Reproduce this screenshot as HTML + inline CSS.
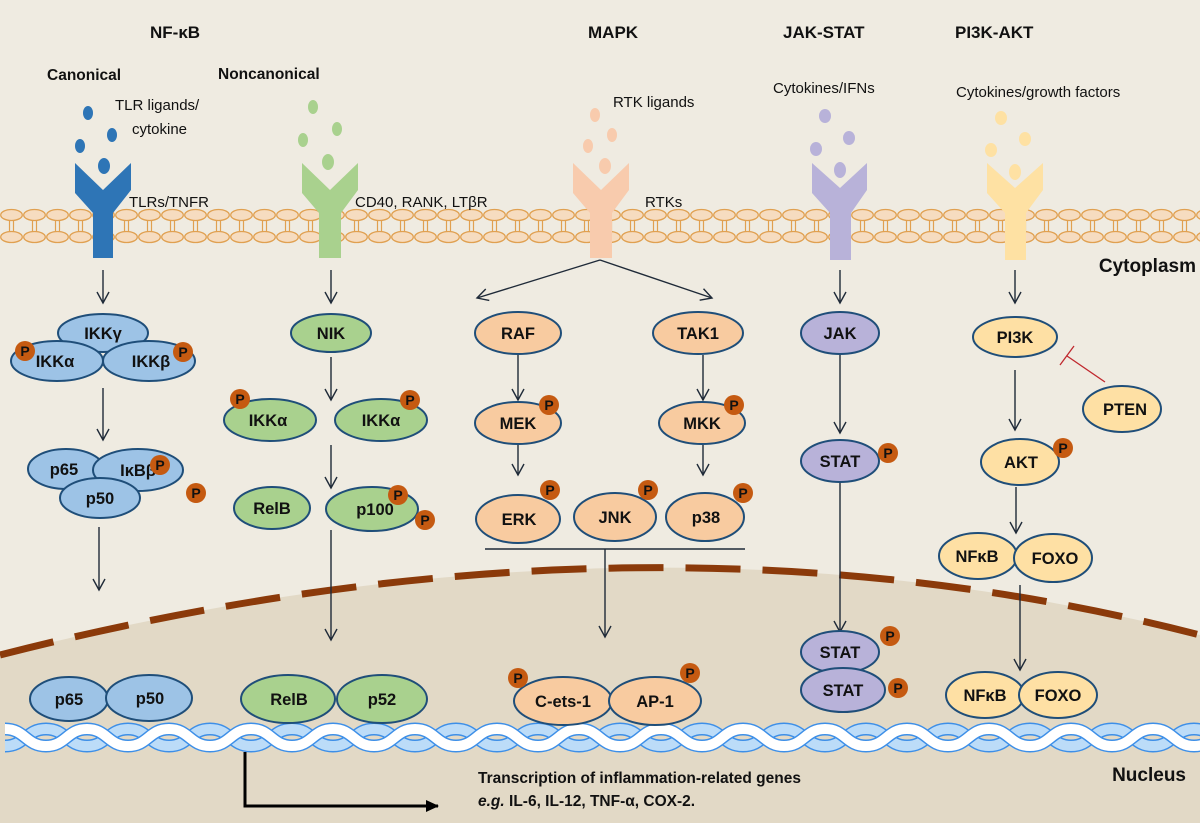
<!DOCTYPE html>
<html><head><meta charset="utf-8"><style>
html,body{margin:0;padding:0;background:#efebe1;}
svg{display:block;font-family:"Liberation Sans",Arial,sans-serif;}
.b{font-weight:bold;}
</style></head><body>
<svg width="1200" height="823" viewBox="0 0 1200 823" xmlns="http://www.w3.org/2000/svg">
<defs>
<pattern id="mem" x="0" y="205" width="23" height="40" patternUnits="userSpaceOnUse">
<line x1="9.5" y1="15" x2="9.5" y2="28" stroke="#e0a050" stroke-width="1.2"/>
<line x1="13.5" y1="15" x2="13.5" y2="28" stroke="#e0a050" stroke-width="1.2"/>
<ellipse cx="11.5" cy="10" rx="10.8" ry="5.5" fill="#f6dcc0" stroke="#e0a050" stroke-width="1.3"/>
<ellipse cx="11.5" cy="32" rx="10.8" ry="5.5" fill="#f6dcc0" stroke="#e0a050" stroke-width="1.3"/>
</pattern>
<pattern id="dna" x="5" y="0" width="82" height="823" patternUnits="userSpaceOnUse">
<path d="M-41,729 C-21,729 -20,746 0,746 C20,746 21,729 41,729 C61,729 62,746 82,746 C102,746 103,729 123,729" fill="none" stroke="#3d8fe8" stroke-width="13"/>
<path d="M-41,729 C-21,729 -20,746 0,746 C20,746 21,729 41,729 C61,729 62,746 82,746 C102,746 103,729 123,729" fill="none" stroke="#bcdcf8" stroke-width="10"/>
<path d="M-41,746 C-21,746 -20,729 0,729 C20,729 21,746 41,746 C61,746 62,729 82,729 C102,729 103,746 123,746" fill="none" stroke="#3d8fe8" stroke-width="13"/>
<path d="M-41,746 C-21,746 -20,729 0,729 C20,729 21,746 41,746 C61,746 62,729 82,729 C102,729 103,746 123,746" fill="none" stroke="#ffffff" stroke-width="10"/>
</pattern>
<marker id="ar" markerWidth="14" markerHeight="14" refX="12" refY="7" orient="auto" markerUnits="userSpaceOnUse">
<path d="M1,1 L12,7 L1,13" fill="none" stroke="#1f2a38" stroke-width="1.4"/>
</marker>
<marker id="arB" markerWidth="14" markerHeight="14" refX="12" refY="7" orient="auto" markerUnits="userSpaceOnUse">
<path d="M0,1 L13,7 L0,13 Z" fill="#000"/>
</marker>
</defs>

<path d="M0,655 Q640,491 1200,635 L1200,823 L0,823 Z" fill="#e2d9c6"/>
<path d="M0,655 Q640,491 1200,635" fill="none" stroke="#8b3a0a" stroke-width="7" stroke-dasharray="55,22"/>

<rect x="0" y="205" width="1200" height="40" fill="url(#mem)"/>

<rect x="5" y="718" width="1195" height="40" fill="url(#dna)"/>

<g class="b" font-size="17" fill="#111">
<text x="150" y="38">NF-κB</text>
<text x="588" y="38">MAPK</text>
<text x="783" y="38">JAK-STAT</text>
<text x="955" y="38">PI3K-AKT</text>
</g>
<g class="b" font-size="15.5" fill="#111">
<text x="47" y="80">Canonical</text>
<text x="218" y="79">Noncanonical</text>
</g>
<g font-size="15" fill="#111">
<text x="115" y="110">TLR ligands/</text>
<text x="132" y="134">cytokine</text>
<text x="129" y="207">TLRs/TNFR</text>
<text x="355" y="207">CD40, RANK, LTβR</text>
<text x="613" y="107">RTK ligands</text>
<text x="645" y="207">RTKs</text>
<text x="773" y="93">Cytokines/IFNs</text>
<text x="956" y="97">Cytokines/growth  factors</text>
</g>
<text class="b" x="1196" y="272" font-size="19" text-anchor="end" fill="#111">Cytoplasm</text>
<text class="b" x="1186" y="781" font-size="19" text-anchor="end" fill="#111">Nucleus</text>

<g fill="#2e75b6"><ellipse cx="88" cy="113" rx="5" ry="7"/><ellipse cx="112" cy="135" rx="5" ry="7"/><ellipse cx="80" cy="146" rx="5" ry="7"/><ellipse cx="104" cy="166" rx="6" ry="8"/>
<polygon points="75,163 103,190 131,163 131,190 113,213 113,258 93,258 93,213 75,193"/></g>
<g fill="#a9d18e"><ellipse cx="313" cy="107" rx="5" ry="7"/><ellipse cx="337" cy="129" rx="5" ry="7"/><ellipse cx="303" cy="140" rx="5" ry="7"/><ellipse cx="328" cy="162" rx="6" ry="8"/>
<polygon points="302,163 330,190 358,163 358,190 341,213 341,258 319,258 319,213 302,193"/></g>
<g fill="#f8cbad"><ellipse cx="595" cy="115" rx="5" ry="7"/><ellipse cx="612" cy="135" rx="5" ry="7"/><ellipse cx="588" cy="146" rx="5" ry="7"/><ellipse cx="605" cy="166" rx="6" ry="8"/>
<polygon points="573,163 601,190 629,163 629,190 612,213 612,258 590,258 590,213 573,193"/></g>
<g fill="#b8b2d9"><ellipse cx="825" cy="116" rx="6" ry="7"/><ellipse cx="849" cy="138" rx="6" ry="7"/><ellipse cx="816" cy="149" rx="6" ry="7"/><ellipse cx="840" cy="170" rx="6" ry="8"/>
<polygon points="812,163 840,188 867,163 867,190 851,213 851,260 830,260 830,213 812,193"/></g>
<g fill="#fee1a3"><ellipse cx="1001" cy="118" rx="6" ry="7"/><ellipse cx="1025" cy="139" rx="6" ry="7"/><ellipse cx="991" cy="150" rx="6" ry="7"/><ellipse cx="1015" cy="172" rx="6" ry="8"/>
<polygon points="987,163 1015,188 1043,163 1043,190 1026,213 1026,260 1005,260 1005,213 987,193"/></g>

<g stroke="#1f2a38" stroke-width="1.4" fill="none" marker-end="url(#ar)">
<line x1="103" y1="270" x2="103" y2="303"/>
<line x1="103" y1="388" x2="103" y2="440"/>
<line x1="99" y1="527" x2="99" y2="590"/>
<line x1="331" y1="270" x2="331" y2="303"/>
<line x1="331" y1="357" x2="331" y2="400"/>
<line x1="331" y1="445" x2="331" y2="488"/>
<line x1="331" y1="530" x2="331" y2="640"/>
<line x1="600" y1="260" x2="477" y2="298"/>
<line x1="600" y1="260" x2="712" y2="298"/>
<line x1="518" y1="355" x2="518" y2="400"/>
<line x1="703" y1="355" x2="703" y2="400"/>
<line x1="518" y1="445" x2="518" y2="475"/>
<line x1="703" y1="445" x2="703" y2="475"/>
<line x1="605" y1="549" x2="605" y2="637"/>
<line x1="840" y1="270" x2="840" y2="303"/>
<line x1="840" y1="355" x2="840" y2="433"/>
<line x1="840" y1="480" x2="840" y2="632"/>
<line x1="1015" y1="270" x2="1015" y2="303"/>
<line x1="1015" y1="370" x2="1015" y2="430"/>
<line x1="1016" y1="487" x2="1016" y2="533"/>
<line x1="1020" y1="585" x2="1020" y2="670"/>
</g>
<line x1="485" y1="549" x2="745" y2="549" stroke="#1f2a38" stroke-width="1.4"/>
<line x1="1105" y1="382" x2="1067" y2="356" stroke="#c0282e" stroke-width="1.3"/>
<line x1="1060" y1="365" x2="1074" y2="346" stroke="#c0282e" stroke-width="1.3"/>

<polyline points="245,752 245,806 438,806" fill="none" stroke="#000" stroke-width="3" marker-end="url(#arB)"/>
<text class="b" x="478" y="783" font-size="15.5" fill="#111">Transcription of inflammation-related genes</text>
<text class="b" x="478" y="806" font-size="15.5" fill="#111"><tspan font-style="italic">e.g.</tspan> IL-6, IL-12, TNF-α, COX-2.</text>

<g stroke="#1f4e79" stroke-width="2">
<g fill="#9dc3e6">
<ellipse cx="103" cy="333" rx="45" ry="19"/>
<ellipse cx="57" cy="361" rx="46" ry="20"/>
<ellipse cx="149" cy="361" rx="46" ry="20"/>
<ellipse cx="66" cy="469" rx="38" ry="20"/>
<ellipse cx="138" cy="470" rx="45" ry="21"/>
<ellipse cx="100" cy="498" rx="40" ry="20"/>
<ellipse cx="69" cy="699" rx="39" ry="22"/>
<ellipse cx="149" cy="698" rx="43" ry="23"/>
</g>
<g fill="#a9d18e">
<ellipse cx="331" cy="333" rx="40" ry="19"/>
<ellipse cx="270" cy="420" rx="46" ry="21"/>
<ellipse cx="381" cy="420" rx="46" ry="21"/>
<ellipse cx="272" cy="508" rx="38" ry="21"/>
<ellipse cx="372" cy="509" rx="46" ry="22"/>
<ellipse cx="288" cy="699" rx="47" ry="24"/>
<ellipse cx="382" cy="699" rx="45" ry="24"/>
</g>
<g fill="#f8cba0">
<ellipse cx="518" cy="333" rx="43" ry="21"/>
<ellipse cx="698" cy="333" rx="45" ry="21"/>
<ellipse cx="518" cy="423" rx="43" ry="21"/>
<ellipse cx="702" cy="423" rx="43" ry="21"/>
<ellipse cx="518" cy="519" rx="42" ry="24"/>
<ellipse cx="615" cy="517" rx="41" ry="24"/>
<ellipse cx="705" cy="517" rx="39" ry="24"/>
<ellipse cx="563" cy="701" rx="49" ry="24"/>
<ellipse cx="655" cy="701" rx="46" ry="24"/>
</g>
<g fill="#b8b2d9">
<ellipse cx="840" cy="333" rx="39" ry="21"/>
<ellipse cx="840" cy="461" rx="39" ry="21"/>
<ellipse cx="840" cy="652" rx="39" ry="21"/>
<ellipse cx="843" cy="690" rx="42" ry="22"/>
</g>
<g fill="#fee0a4">
<ellipse cx="1015" cy="337" rx="42" ry="20"/>
<ellipse cx="1122" cy="409" rx="39" ry="23"/>
<ellipse cx="1020" cy="462" rx="39" ry="23"/>
<ellipse cx="978" cy="556" rx="39" ry="23"/>
<ellipse cx="1053" cy="558" rx="39" ry="24"/>
<ellipse cx="985" cy="695" rx="39" ry="23"/>
<ellipse cx="1058" cy="695" rx="39" ry="23"/>
</g>
</g>

<g class="b" font-size="16.5" fill="#111" text-anchor="middle">
<text x="103" y="339">IKKγ</text>
<text x="55" y="367">IKKα</text>
<text x="151" y="367">IKKβ</text>
<text x="64" y="475">p65</text>
<text x="138" y="476">IκBβ</text>
<text x="100" y="504">p50</text>
<text x="69" y="705">p65</text>
<text x="150" y="704">p50</text>
<text x="331" y="339">NIK</text>
<text x="268" y="426">IKKα</text>
<text x="381" y="426">IKKα</text>
<text x="272" y="514">RelB</text>
<text x="375" y="515">p100</text>
<text x="289" y="705">RelB</text>
<text x="382" y="705">p52</text>
<text x="518" y="339">RAF</text>
<text x="698" y="339">TAK1</text>
<text x="518" y="429">MEK</text>
<text x="702" y="429">MKK</text>
<text x="519" y="525">ERK</text>
<text x="615" y="523">JNK</text>
<text x="706" y="523">p38</text>
<text x="563" y="707">C-ets-1</text>
<text x="655" y="707">AP-1</text>
<text x="840" y="339">JAK</text>
<text x="840" y="467">STAT</text>
<text x="840" y="658">STAT</text>
<text x="843" y="696">STAT</text>
<text x="1015" y="343">PI3K</text>
<text x="1125" y="415">PTEN</text>
<text x="1021" y="468">AKT</text>
<text x="977" y="562">NFκB</text>
<text x="1055" y="564">FOXO</text>
<text x="985" y="701">NFκB</text>
<text x="1058" y="701">FOXO</text>
</g>

<g>
<g fill="#c55a11">
<circle cx="25" cy="351" r="10"/><circle cx="183" cy="352" r="10"/>
<circle cx="160" cy="465" r="10"/><circle cx="196" cy="493" r="10"/>
<circle cx="240" cy="399" r="10"/><circle cx="410" cy="400" r="10"/>
<circle cx="398" cy="495" r="10"/><circle cx="425" cy="520" r="10"/>
<circle cx="549" cy="405" r="10"/><circle cx="734" cy="405" r="10"/>
<circle cx="550" cy="490" r="10"/><circle cx="648" cy="490" r="10"/><circle cx="743" cy="493" r="10"/>
<circle cx="518" cy="678" r="10"/><circle cx="690" cy="673" r="10"/>
<circle cx="888" cy="453" r="10"/><circle cx="890" cy="636" r="10"/><circle cx="898" cy="688" r="10"/>
<circle cx="1063" cy="448" r="10"/>
</g>
<g class="b" font-size="14" fill="#111" text-anchor="middle">
<text x="25" y="356">P</text><text x="183" y="357">P</text>
<text x="160" y="470">P</text><text x="196" y="498">P</text>
<text x="240" y="404">P</text><text x="410" y="405">P</text>
<text x="398" y="500">P</text><text x="425" y="525">P</text>
<text x="549" y="410">P</text><text x="734" y="410">P</text>
<text x="550" y="495">P</text><text x="648" y="495">P</text><text x="743" y="498">P</text>
<text x="518" y="683">P</text><text x="690" y="678">P</text>
<text x="888" y="458">P</text><text x="890" y="641">P</text><text x="898" y="693">P</text>
<text x="1063" y="453">P</text>
</g>
</g>
</svg>
</body></html>
